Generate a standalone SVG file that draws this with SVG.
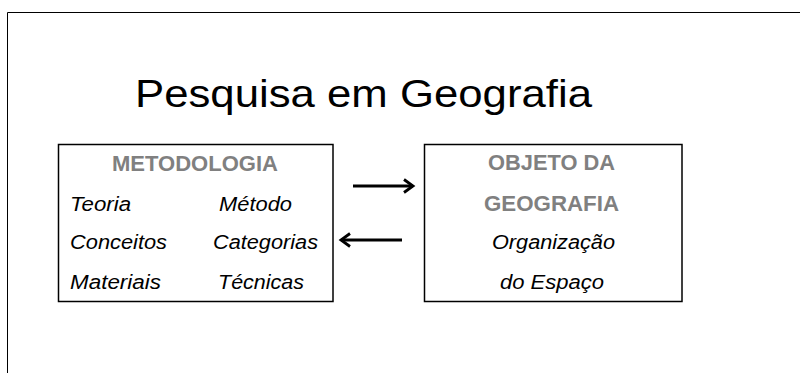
<svg xmlns="http://www.w3.org/2000/svg" width="800" height="373" viewBox="0 0 800 373">
<defs>
<marker id="ah" viewBox="0 0 14 16" refX="11" refY="8" markerWidth="14" markerHeight="16" markerUnits="userSpaceOnUse" orient="auto">
<path d="M2,1.5 L11,8 L2,14.5" fill="none" stroke="#000" stroke-width="2.8" stroke-linejoin="miter"/>
</marker>
<style>
.box{fill:#fff;stroke:#000;stroke-width:1.5}
.hd{font-family:"Liberation Sans",Arial,sans-serif;font-weight:bold;font-size:21.5px;fill:#808080}
.it{font-family:"Liberation Sans",Arial,sans-serif;font-style:italic;font-size:20px;fill:#000}
.cn{stroke:#000;stroke-width:3;fill:none}
</style>
</defs>
<rect width="800" height="373" fill="#fff"/>
<path d="M7.5,373 V12.5 H800" fill="none" stroke="#000" stroke-width="1"/>
<text x="135" y="107" font-family="'Liberation Sans',Arial,sans-serif" font-size="39" fill="#000" textLength="457" lengthAdjust="spacingAndGlyphs">Pesquisa em Geografia</text>
<g id="metodologia">
<rect class="box" x="58.5" y="144.5" width="274.5" height="157"/>
<text class="hd" x="112" y="171" textLength="166" lengthAdjust="spacingAndGlyphs">METODOLOGIA</text>
<text class="it" x="70" y="211" textLength="61" lengthAdjust="spacingAndGlyphs">Teoria</text>
<text class="it" x="219" y="211" textLength="73" lengthAdjust="spacingAndGlyphs">Método</text>
<text class="it" x="70" y="249" textLength="97" lengthAdjust="spacingAndGlyphs">Conceitos</text>
<text class="it" x="213" y="249" textLength="105" lengthAdjust="spacingAndGlyphs">Categorias</text>
<text class="it" x="70" y="289" textLength="91" lengthAdjust="spacingAndGlyphs">Materiais</text>
<text class="it" x="218" y="289" textLength="86" lengthAdjust="spacingAndGlyphs">Técnicas</text>
</g>
<g id="objeto">
<rect class="box" x="424.5" y="144.5" width="257.5" height="157"/>
<text class="hd" x="488" y="170" textLength="127" lengthAdjust="spacingAndGlyphs">OBJETO DA</text>
<text class="hd" x="484" y="211" textLength="135" lengthAdjust="spacingAndGlyphs">GEOGRAFIA</text>
<text class="it" x="492" y="249" textLength="123" lengthAdjust="spacingAndGlyphs">Organização</text>
<text class="it" x="500" y="289" textLength="104" lengthAdjust="spacingAndGlyphs">do Espaço</text>
</g>
<g id="connectors">
<line class="cn" x1="353" y1="186" x2="413" y2="186" marker-end="url(#ah)"/>
<line class="cn" x1="402" y1="240" x2="341" y2="240" marker-end="url(#ah)"/>
</g>
</svg>
